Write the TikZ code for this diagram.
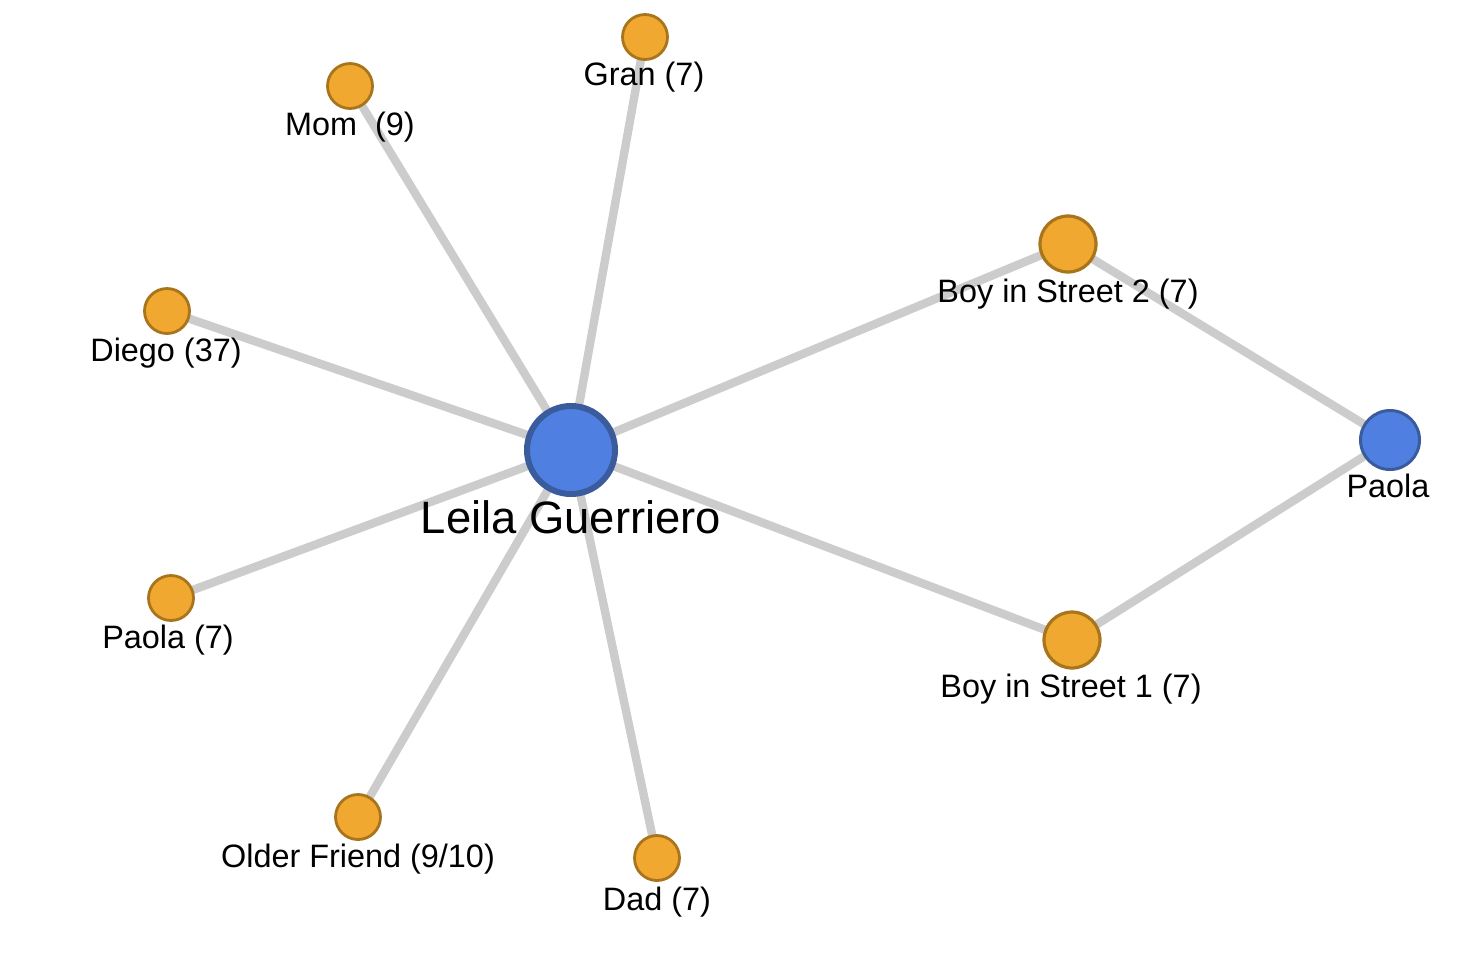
\documentclass[tikz,border=0pt]{standalone}
\usepackage{fontspec}
\setmainfont{Liberation Sans}
\definecolor{edgegray}{HTML}{CCCCCC}
\definecolor{orfill}{HTML}{F0A830}
\definecolor{ordraw}{HTML}{A8741C}
\definecolor{blfill}{HTML}{4F80E1}
\definecolor{bldraw}{HTML}{3A5B9C}
\begin{document}
\begin{tikzpicture}[x=0.5pt,y=-0.5pt,
  link/.style={draw=edgegray,line width=4.2pt},
  small/.style={circle,fill=orfill,draw=ordraw,line width=1.4pt,minimum size=22.5pt,inner sep=0pt},
  mid/.style={circle,fill=orfill,draw=ordraw,line width=1.6pt,minimum size=28pt,inner sep=0pt},
  hub/.style={circle,fill=blfill,draw=bldraw,line width=3pt,minimum size=44pt,inner sep=0pt},
  sub/.style={circle,fill=blfill,draw=bldraw,line width=1.5pt,minimum size=29.5pt,inner sep=0pt},
  lbl/.style={font=\fontsize{16.2pt}{18pt}\selectfont,inner sep=0pt,text=black},
  biglbl/.style={font=\fontsize{22.7pt}{25pt}\selectfont,inner sep=0pt,text=black}]
\useasboundingbox (0,0) rectangle (1470,960);
% node positions
\coordinate (cL) at (571,450);
\coordinate (cP) at (1390,440);
\coordinate (cG) at (645,37);
\coordinate (cM) at (350,86);
\coordinate (cD) at (167,311);
\coordinate (cP7) at (171,598);
\coordinate (cO) at (358,817);
\coordinate (cDad) at (657,858);
\coordinate (cB2) at (1068,244);
\coordinate (cB1) at (1072,640);
% edges
\draw[link] (cL) -- (cG);
\draw[link] (cL) -- (cM);
\draw[link] (cL) -- (cD);
\draw[link] (cL) -- (cP7);
\draw[link] (cL) -- (cO);
\draw[link] (cL) -- (cDad);
\draw[link] (cL) -- (cB2);
\draw[link] (cL) -- (cB1);
\draw[link] (cB2) -- (cP);
\draw[link] (cB1) -- (cP);
% nodes
\node[hub] (leila) at (cL) {};
\node[sub] (paola) at (cP) {};
\node[small] (gran) at (cG) {};
\node[small] (mom) at (cM) {};
\node[small] (diego) at (cD) {};
\node[small] (paola7) at (cP7) {};
\node[small] (older) at (cO) {};
\node[small] (dad) at (cDad) {};
\node[mid] (boy2) at (cB2) {};
\node[mid] (boy1) at (cB1) {};
% labels
\node[biglbl] (tleila) at (571,517) {Leila Guerriero};
\node[lbl] (tpaola) at (1388,486) {Paola};
\node[lbl] (tgran) at (644,77) {Gran (7)};
\node[lbl] (tmom) at (350,127) {Mom\ \ (9)};
\node[lbl] (tdiego) at (166,353) {Diego (37)};
\node[lbl] (tpaola7) at (168,640) {Paola (7)};
\node[lbl] (tolder) at (358,859) {Older Friend (9/10)};
\node[lbl] (tdad) at (657,902) {Dad (7)};
\node[lbl] (tboy2) at (1068,294) {Boy in Street 2 (7)};
\node[lbl] (tboy1) at (1071,689) {Boy in Street 1 (7)};
\end{tikzpicture}
\end{document}
